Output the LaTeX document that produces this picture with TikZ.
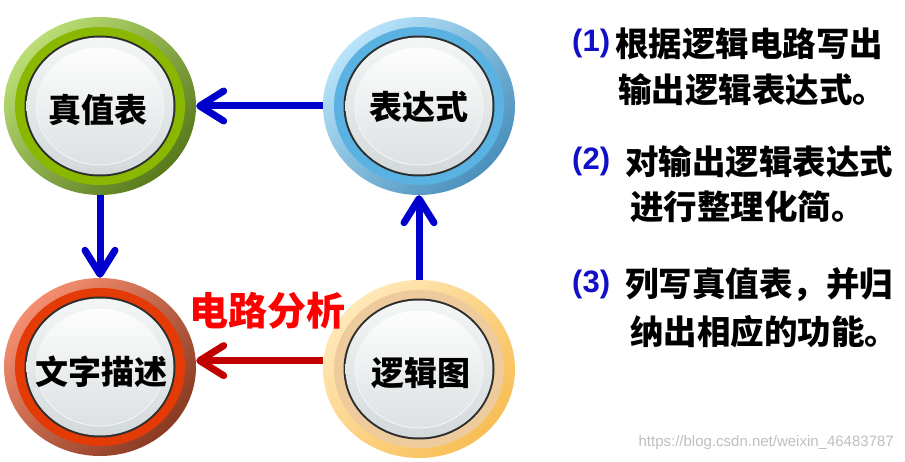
\documentclass[tikz,border=0pt]{standalone}
\usepackage{fontspec}
\newfontfamily\cjk{Noto Sans CJK SC}
\newfontfamily\latn{Liberation Sans}
\newfontfamily\wmfont{Liberation Sans}
\usetikzlibrary{shapes.geometric,arrows.meta}
\definecolor{gL}{HTML}{BBDD75}\definecolor{gD}{HTML}{587A1C}\definecolor{gM}{HTML}{8AB800}
\definecolor{bL}{HTML}{B8E4FA}\definecolor{bD}{HTML}{4A90BC}\definecolor{bM}{HTML}{5AB2E2}
\definecolor{rL}{HTML}{F58E70}\definecolor{rD}{HTML}{8A3A22}\definecolor{rM}{HTML}{E43A05}
\definecolor{oL}{HTML}{FFE8B8}\definecolor{oD}{HTML}{F8BE55}\definecolor{oM}{HTML}{EDCB9C}
\definecolor{faceT}{HTML}{F4F6F6}\definecolor{faceB}{HTML}{D3D9DB}
\definecolor{arrB}{HTML}{0000CC}\definecolor{arrR}{HTML}{C00000}
\definecolor{numB}{HTML}{1010C8}
\newcommand\mybtn[5]{%
  \node[ellipse, inner sep=0pt, minimum width=192pt, minimum height=178pt,
        top color=#3, bottom color=#4, shading angle=45] (#1) at (#2) {};
  \node[ellipse, inner sep=0pt, minimum width=170pt, minimum height=158pt, fill=#5] at (#2) {};
  \node[ellipse, inner sep=0pt, minimum width=151pt, minimum height=141pt, fill=black!82] at (#2) {};
  \node[ellipse, inner sep=0pt, minimum width=147pt, minimum height=137pt,
        top color=faceT, bottom color=faceB] at (#2) {};
  \node[ellipse, inner sep=0pt, minimum width=128pt, minimum height=118pt,
        top color=white!85!faceT, bottom color=faceB!80!white, draw=white!70!faceB, line width=1pt] at (#2) {};
}
\tikzset{
  arr/.style={line width=7pt, -{Straight Barb[length=24pt,width=30pt,round]}},
  lbl/.style={font=\cjk\bfseries\fontsize{33}{33}\selectfont, inner sep=0pt},
  rtxt/.style={font=\cjk\bfseries\fontsize{33.5}{33.5}\selectfont, inner sep=0pt, anchor=west},
  num/.style={font=\latn\bfseries\fontsize{31}{31}\selectfont, text=numB, inner sep=0pt, anchor=west}
}
\begin{document}
\begin{tikzpicture}[x=1pt,y=-1pt]
\useasboundingbox[fill=white] (0,0) rectangle (905,462);
\mybtn{zhen}{100,106}{gL}{gD}{gM}
\mybtn{biao}{419,106}{bL}{bD}{bM}
\mybtn{wen}{100,367}{rL}{rD}{rM}
\mybtn{luo}{419,369}{oL}{oD}{oM}
\node[lbl] (zhent) at (98,110) {真值表};
\node[lbl] (biaot) at (419,107) {表达式};
\node[lbl] (went) at (101,372) {文字描述};
\node[lbl] (luot) at (421,373) {逻辑图};
\draw[arr, arrB] (biao.west) -- (zhen.east);
\draw[arr, arrB] (zhen.south) -- (wen.north);
\draw[arr, arrB] (luo.north) -- (biao.south);
\draw[arr, arrR] (luo.175) -- (luo.175 -| wen.east);
\node[font=\cjk\bfseries\fontsize{39}{39}\selectfont, text=red, inner sep=0pt] (dlfx) at (267,311) {电路分析};
\node[num] (n1) at (572,43) {(1)};
\node[rtxt] (t1) at (615,44) {根据逻辑电路写出};
\node[rtxt] (t2) at (618,90) {输出逻辑表达式。};
\node[num] (n2) at (572,161) {(2)};
\node[rtxt] (t3) at (625,162) {对输出逻辑表达式};
\node[rtxt] (t4) at (630,207) {进行整理化简。};
\node[num] (n3) at (572,284) {(3)};
\node[rtxt] (t5) at (625,285) {列写真值表，并归};
\node[rtxt] (t6) at (630,332) {纳出相应的功能。};
\node[font=\wmfont\fontsize{15}{15}\selectfont, text=black!25, anchor=east, inner sep=0pt] (wm) at (894,443) {https://blog.csdn.net/weixin\_46483787};
\end{tikzpicture}
\end{document}
